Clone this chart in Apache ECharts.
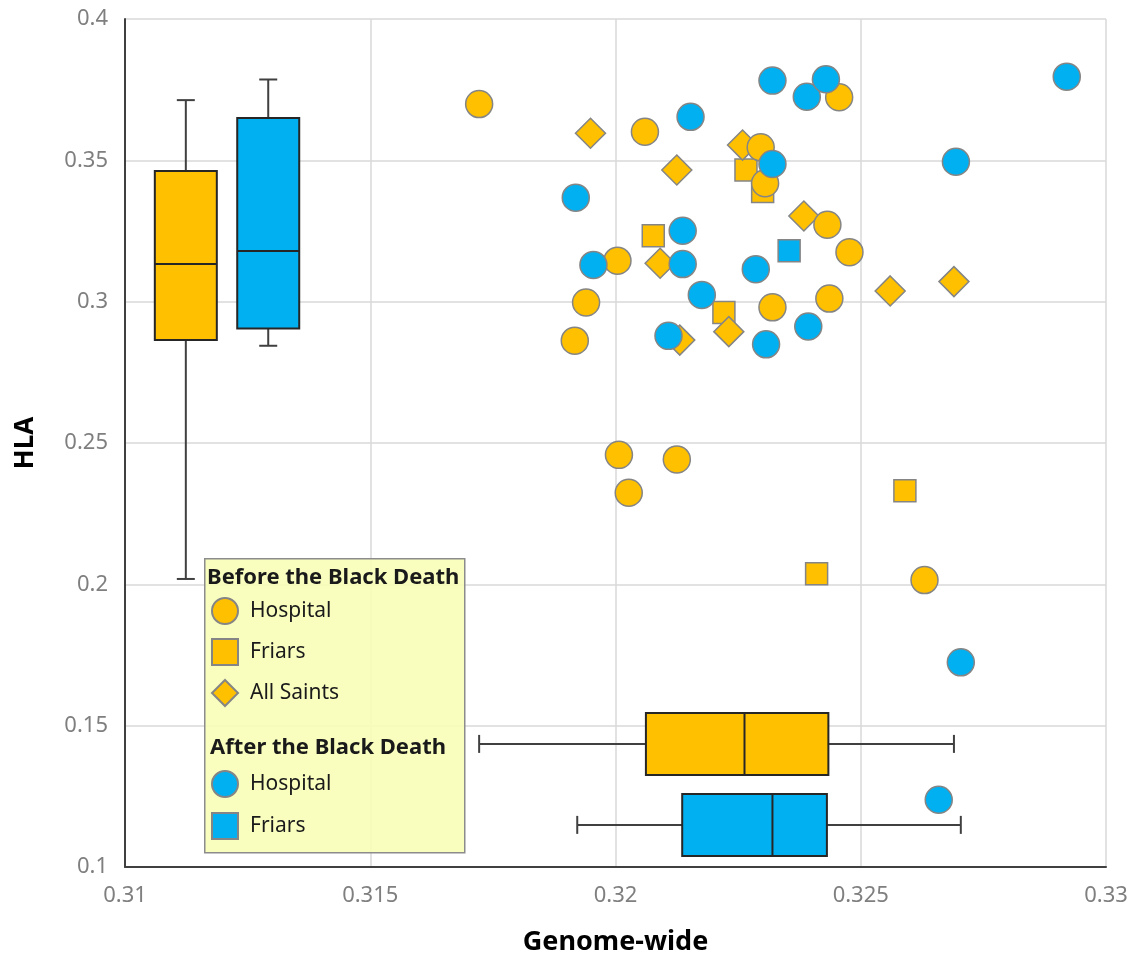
<!DOCTYPE html>
<html>
<head>
<meta charset="utf-8">
<script src="https://cdn.jsdelivr.net/npm/echarts@6/dist/echarts.min.js"></script>
<style>
html,body{margin:0;padding:0;background:#fff;}
#chart{width:1139px;height:965px;}
</style>
</head>
<body>
<div id="chart"></div>
<script>
// ---- Data (Genome-wide, HLA) ----
const beforeHospital = [[0.31722,0.3699],[0.32060,0.3601],[0.32456,0.3723],[0.32296,0.3546],[0.32305,0.3419],[0.32432,0.3272],[0.32477,0.3175],[0.32004,0.3145],[0.31940,0.2997],[0.31917,0.2862],[0.32320,0.2980],[0.32436,0.3011],[0.32007,0.2458],[0.32125,0.2442],[0.32027,0.2324],[0.32630,0.2015]];
const beforeFriars = [[0.32266,0.3466],[0.32300,0.3390],[0.32077,0.3233],[0.32221,0.2962],[0.32590,0.2331],[0.32410,0.2037]];
const beforeAllSaints = [[0.31949,0.3596],[0.32259,0.3554],[0.32125,0.3466],[0.32384,0.3303],[0.32091,0.3136],[0.32231,0.2894],[0.32131,0.2864],[0.32690,0.3071],[0.32560,0.3038]];
const afterHospital = [[0.32320,0.3782],[0.32390,0.3725],[0.32429,0.3787],[0.32153,0.3654],[0.32320,0.3487],[0.31919,0.3368],[0.32137,0.3251],[0.31955,0.3130],[0.32137,0.3133],[0.32286,0.3115],[0.32176,0.3024],[0.32108,0.2879],[0.32393,0.2912],[0.32307,0.2849],[0.32920,0.3796],[0.32694,0.3495],[0.32704,0.1724],[0.32659,0.1238]];
const afterFriars = [[0.32354,0.3180]];

// Box plot summaries: [min, q1, median, q3, max]
const beforeGenomeBox = [0.31722, 0.32062, 0.32263, 0.32434, 0.32690];
const afterGenomeBox  = [0.31922, 0.32136, 0.32320, 0.32431, 0.32704];
const beforeHLABox = [0.2019, 0.2864, 0.3133, 0.3462, 0.3713];
const afterHLABox  = [0.2844, 0.2905, 0.3179, 0.3650, 0.3786];

// Axis ticks
const xTicks = {min: 0.31, max: 0.33, interval: 0.005};
const yTicks = {min: 0.1, max: 0.4, interval: 0.05};

const ORANGE = '#FFC000', BLUE = '#00B0F0';
const FONT = '"Noto Sans", "Open Sans", sans-serif';

// where the marginal box plots sit (in the other axis' units)
const vertBoxes = [
  {pos: 0.31124, stats: beforeHLABox, color: ORANGE},
  {pos: 0.31292, stats: afterHLABox, color: BLUE}
];
const horizBoxes = [
  {pos: 0.14355, stats: beforeGenomeBox, color: ORANGE},
  {pos: 0.1149, stats: afterGenomeBox, color: BLUE}
];

function boxChildren(api, isVert, pos, s, color) {
  const half = 31, cap = 9;
  const c = isVert ? (v => api.coord([pos, v])) : (v => api.coord([v, pos]));
  const pMin = c(s[0]), pQ1 = c(s[1]), pMed = c(s[2]), pQ3 = c(s[3]), pMax = c(s[4]);
  const lineStyle = {stroke: '#404040', lineWidth: 2};
  const boxStyle = {fill: color, stroke: '#262626', lineWidth: 2};
  const ch = [];
  if (isVert) {
    const x = pMin[0];
    ch.push({type:'line', shape:{x1:x,y1:pMin[1],x2:x,y2:pQ1[1]}, style:lineStyle});
    ch.push({type:'line', shape:{x1:x,y1:pQ3[1],x2:x,y2:pMax[1]}, style:lineStyle});
    ch.push({type:'line', shape:{x1:x-cap,y1:pMin[1],x2:x+cap,y2:pMin[1]}, style:lineStyle});
    ch.push({type:'line', shape:{x1:x-cap,y1:pMax[1],x2:x+cap,y2:pMax[1]}, style:lineStyle});
    ch.push({type:'rect', shape:{x:x-half,y:pQ3[1],width:2*half,height:pQ1[1]-pQ3[1]}, style:boxStyle});
    ch.push({type:'line', shape:{x1:x-half,y1:pMed[1],x2:x+half,y2:pMed[1]}, style:{stroke:'#262626',lineWidth:2}});
  } else {
    const y = pMin[1];
    ch.push({type:'line', shape:{x1:pMin[0],y1:y,x2:pQ1[0],y2:y}, style:lineStyle});
    ch.push({type:'line', shape:{x1:pQ3[0],y1:y,x2:pMax[0],y2:y}, style:lineStyle});
    ch.push({type:'line', shape:{x1:pMin[0],y1:y-cap,x2:pMin[0],y2:y+cap}, style:lineStyle});
    ch.push({type:'line', shape:{x1:pMax[0],y1:y-cap,x2:pMax[0],y2:y+cap}, style:lineStyle});
    ch.push({type:'rect', shape:{x:pQ1[0],y:y-half,width:pQ3[0]-pQ1[0],height:2*half}, style:boxStyle});
    ch.push({type:'line', shape:{x1:pMed[0],y1:y-half,x2:pMed[0],y2:y+half}, style:{stroke:'#262626',lineWidth:2}});
  }
  return {type:'group', children: ch};
}

const markerBorder = {borderColor: '#858585', borderWidth: 1.5};
function scatter(name, data, symbol, size, color) {
  return {
    name, type: 'scatter', data, symbol, symbolSize: size,
    itemStyle: Object.assign({color, opacity: 1}, markerBorder),
    emphasis: {disabled: true}, z: 3
  };
}

const chart = echarts.init(document.getElementById('chart'), null, {renderer: 'canvas', width: 1139, height: 965});
const fmt = v => String(parseFloat(v.toFixed(3)));

const option = {
  animation: false,
  backgroundColor: '#fff',
  textStyle: {fontFamily: FONT},
  grid: {left: 125, top: 19, width: 981, height: 848, containLabel: false},
  xAxis: {
    type: 'value', min: xTicks.min, max: xTicks.max, interval: xTicks.interval,
    name: 'Genome-wide', nameLocation: 'middle', nameGap: 62,
    nameTextStyle: {fontSize: 27, fontWeight: 'bold', color: '#000', fontFamily: FONT},
    axisLine: {show: true, onZero: false, lineStyle: {color: '#404040', width: 2}},
    axisTick: {show: false},
    axisLabel: {formatter: fmt, fontSize: 22, color: '#7f7f7f', margin: 18, fontFamily: FONT},
    splitLine: {show: true, lineStyle: {color: '#d9d9d9', width: 1.5}}
  },
  yAxis: {
    type: 'value', min: yTicks.min, max: yTicks.max, interval: yTicks.interval,
    name: 'HLA', nameLocation: 'middle', nameGap: 86,
    nameTextStyle: {fontSize: 26, fontWeight: 'bold', color: '#000', fontFamily: FONT},
    axisLine: {show: true, onZero: false, lineStyle: {color: '#404040', width: 2}},
    axisTick: {show: false},
    axisLabel: {formatter: fmt, fontSize: 22, color: '#7f7f7f', margin: 17, fontFamily: FONT},
    splitLine: {show: true, lineStyle: {color: '#d9d9d9', width: 1.5}}
  },
  graphic: [
    {type: 'rect', left: 204, top: 558, z: 3, shape: {width: 260, height: 294},
     style: {fill: 'rgba(248,254,184,0.9)', stroke: '#8c8c8c', lineWidth: 1.5}},
    {type: 'text', left: 207, top: 567, z: 5,
     style: {text: 'Before the Black Death', font: 'bold 22px ' + FONT, fill: '#1a1a1a'}},
    {type: 'text', left: 210, top: 737, z: 5,
     style: {text: 'After the Black Death', font: 'bold 22px ' + FONT, fill: '#1a1a1a'}}
  ],
  legend: [
    {orient: 'vertical', left: 211, top: 597, padding: 0, itemWidth: 26, itemHeight: 26, itemGap: 13,
     selectedMode: false, z: 6,
     textStyle: {fontSize: 21, color: '#1a1a1a', fontFamily: FONT, padding: [0,0,0,7]},
     formatter: n => n.replace(/^(Before|After) /, ''),
     data: ['Before Hospital', 'Before Friars', 'Before All Saints']},
    {orient: 'vertical', left: 211, top: 770, padding: 0, itemWidth: 26, itemHeight: 26, itemGap: 14,
     selectedMode: false, z: 6,
     textStyle: {fontSize: 21, color: '#1a1a1a', fontFamily: FONT, padding: [0,0,0,7]},
     formatter: n => n.replace(/^(Before|After) /, ''),
     data: ['After Hospital', 'After Friars']}
  ],
  series: [
    {
      type: 'custom', name: 'vbox', z: 2, silent: true,
      data: vertBoxes.map((b, i) => [b.pos, b.stats[2], i]),
      renderItem: (params, api) => {
        const b = vertBoxes[params.dataIndex];
        return boxChildren(api, true, b.pos, b.stats, b.color);
      }
    },
    {
      type: 'custom', name: 'hbox', z: 2, silent: true,
      data: horizBoxes.map((b, i) => [b.stats[2], b.pos, i]),
      renderItem: (params, api) => {
        const b = horizBoxes[params.dataIndex];
        return boxChildren(api, false, b.pos, b.stats, b.color);
      }
    },
    scatter('Before Friars', beforeFriars, 'rect', 22, ORANGE),
    scatter('Before All Saints', beforeAllSaints, 'diamond', 30, ORANGE),
    scatter('Before Hospital', beforeHospital, 'circle', 27, ORANGE),
    scatter('After Hospital', afterHospital, 'circle', 27, BLUE),
    scatter('After Friars', afterFriars, 'rect', 22, BLUE)
  ]
};
chart.setOption(option);
</script>
</body>
</html>
